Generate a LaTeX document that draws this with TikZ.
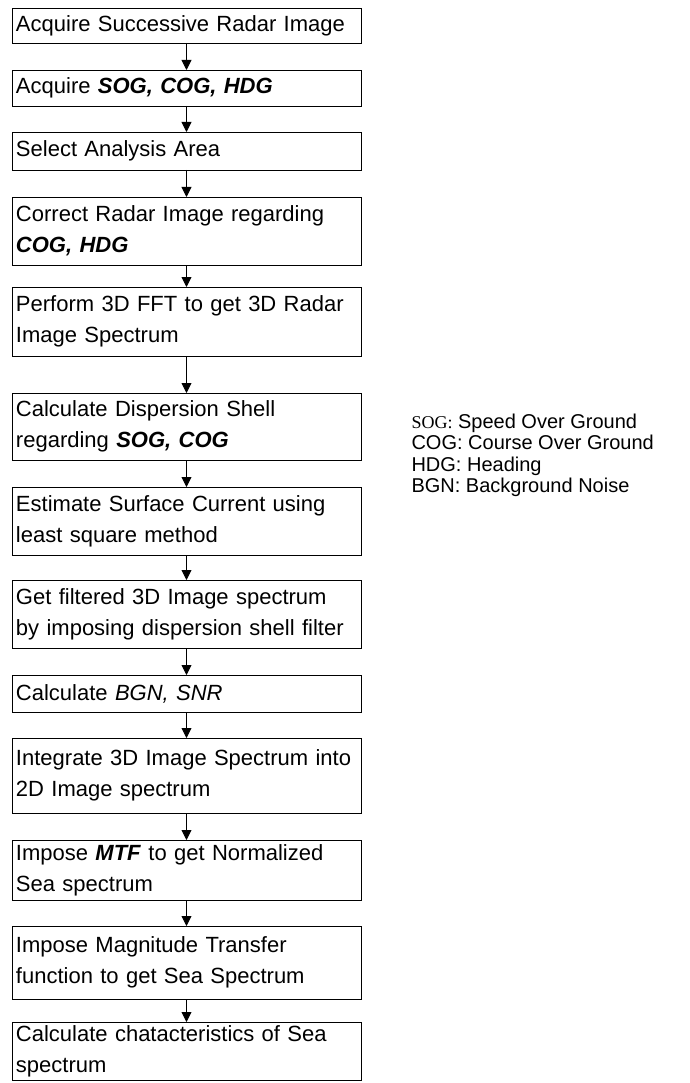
\documentclass[tikz,border=0pt]{standalone}
\usepackage{fontspec}
\setmainfont{Liberation Sans}
\newfontfamily\legserif{Liberation Serif}
\usetikzlibrary{arrows.meta, positioning}
\newcommand{\vname}[1]{\textbf{\textit{#1}}}

\begin{document}
\begin{tikzpicture}[x=1pt, y=1pt,
    stepbox/.style={draw, line width=0.9pt, text width=341pt, inner xsep=4pt, inner ysep=0pt, outer sep=0pt,
        align=left, anchor=north, font=\fontsize{22}{31}\selectfont},
    flow/.style={-{Triangle[width=10pt, length=10pt]}, line width=0.9pt}]
        \useasboundingbox (0,0) rectangle (689,-1083);
        \node[stepbox, minimum height=35pt] (s1) at (186.5,-8) {Acquire Successive Radar Image};
        \node[stepbox, minimum height=36pt, below=27pt of s1] (s2) {Acquire \vname{SOG, COG, HDG}};
        \node[stepbox, minimum height=38pt, below=26pt of s2] (s3) {Select Analysis Area};
        \node[stepbox, minimum height=68pt, below=27pt of s3] (s4) {Correct Radar Image regarding\\\vname{COG, HDG}};
        \node[stepbox, minimum height=69pt, below=22pt of s4] (s5) {Perform 3D FFT to get 3D Radar\\Image Spectrum};
        \node[stepbox, minimum height=67pt, below=37pt of s5] (s6) {Calculate Dispersion Shell\\regarding \vname{SOG, COG}};
        \node[stepbox, minimum height=68pt, below=27pt of s6] (s7) {Estimate Surface Current using\\least square method};
        \node[stepbox, minimum height=68pt, below=25pt of s7] (s8) {Get filtered 3D Image spectrum\\by imposing dispersion shell filter};
        \node[stepbox, minimum height=37pt, below=27pt of s8] (s9) {Calculate \textit{BGN, SNR}};
        \node[stepbox, minimum height=75pt, below=26pt of s9] (s10) {Integrate 3D Image Spectrum into\\2D Image spectrum};
        \node[stepbox, minimum height=60pt, below=27pt of s10] (s11) {Impose \vname{MTF} to get Normalized\\Sea spectrum};
        \node[stepbox, minimum height=73pt, below=26pt of s11] (s12) {Impose Magnitude Transfer\\function to get Sea Spectrum};
        \node[stepbox, minimum height=58pt, below=23pt of s12] (s13) {Calculate chatacteristics of Sea\\spectrum};

        \foreach \a/\b in {s1/s2, s2/s3, s3/s4, s4/s5, s5/s6, s6/s7, s7/s8, s8/s9, s9/s10, s10/s11, s11/s12, s12/s13}
            \draw[flow] (\a) -- (\b);

        % abbreviations
        \node[anchor=north west, align=left, font=\fontsize{20}{21.5}\selectfont] (legend) at (408,-410)
            {{\legserif\fontsize{18}{21.5}\selectfont SOG:} Speed Over Ground\\COG: Course Over Ground\\HDG: Heading\\BGN: Background Noise};
\end{tikzpicture}
\end{document}
